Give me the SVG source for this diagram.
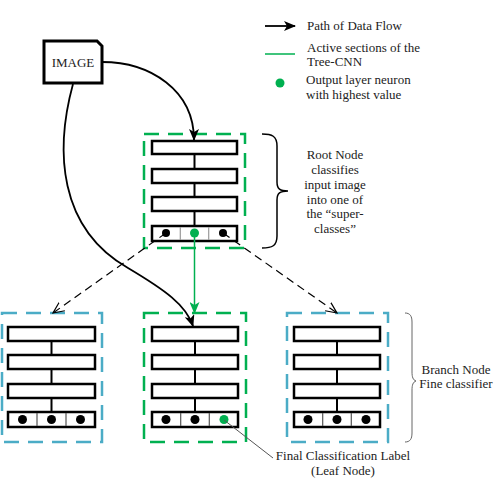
<svg xmlns="http://www.w3.org/2000/svg" width="498" height="498" viewBox="0 0 498 498">
<style>
text{font-family:"Liberation Serif","Times New Roman",serif;font-size:13px;fill:#222}
.box-g{fill:none;stroke:#00b050;stroke-width:2.5;stroke-dasharray:15 9}
.box-b{fill:none;stroke:#4bacc6;stroke-width:2.5;stroke-dasharray:15 9}
.layer{fill:#fff;stroke:#000;stroke-width:2.5}
.stem{stroke:#000;stroke-width:2}
.div{stroke:#555;stroke-width:1.2}
.divr{stroke:#999;stroke-width:1.2}
.dot{fill:#000}
.gdot{fill:#00b050}
.flow{fill:none;stroke:#000;stroke-width:1.8}
.dash{fill:none;stroke:#000;stroke-width:1.2;stroke-dasharray:8 5}
.gline{fill:none;stroke:#00b050;stroke-width:1.5}
.brace{fill:none;stroke:#000;stroke-width:1.5}
.brace2{fill:none;stroke:#666;stroke-width:1}
</style>
<defs>
<marker id="ah" markerWidth="12" markerHeight="10" refX="11" refY="5" orient="auto" markerUnits="userSpaceOnUse">
<path d="M0,0 L12,5 L0,10 L3,5 Z" fill="#000"/>
</marker>
<marker id="ahg" markerWidth="12" markerHeight="10" refX="11" refY="5" orient="auto" markerUnits="userSpaceOnUse">
<path d="M0,0 L12,5 L0,10 L3,5 Z" fill="#00b050"/>
</marker>
<marker id="ahv" markerWidth="12" markerHeight="12" refX="11" refY="6" orient="auto" markerUnits="userSpaceOnUse">
<path d="M0,1 L11,6 L0,11" fill="none" stroke="#000" stroke-width="1.2"/>
</marker>
</defs>

<g id="image">
<path d="M44,41 L97,41 L102,46 L102,83 L44,83 Z" fill="#fff" stroke="#000" stroke-width="3"/>
<text x="73" y="67" text-anchor="middle">IMAGE</text>
</g>

<g id="root">
<rect class="box-g" x="144" y="134" width="101" height="114"/>
<line class="stem" x1="194.5" y1="154" x2="194.5" y2="226"/>
<rect class="layer" x="152" y="141" width="85" height="13"/>
<rect class="layer" x="152" y="169" width="85" height="14"/>
<rect class="layer" x="152" y="197" width="85" height="14"/>
<rect class="layer" x="152" y="226" width="85" height="15"/>
<line class="divr" x1="180.3" y1="227" x2="180.3" y2="240"/>
<line class="divr" x1="208.7" y1="227" x2="208.7" y2="240"/>
<circle class="dot" cx="166" cy="233" r="4"/>
<circle class="gdot" cx="194.5" cy="233" r="4.5"/>
<circle class="dot" cx="223" cy="233" r="4"/>
</g>

<g id="branch-left">
<rect class="box-b" x="2" y="313" width="100" height="129"/>
<line class="stem" x1="51.5" y1="341" x2="51.5" y2="412"/>
<rect class="layer" x="8" y="327" width="87" height="14"/>
<rect class="layer" x="8" y="355" width="87" height="14"/>
<rect class="layer" x="8" y="384" width="87" height="14"/>
<rect class="layer" x="8" y="412" width="87" height="15"/>
<line class="div" x1="37" y1="413" x2="37" y2="426"/>
<line class="div" x1="66" y1="413" x2="66" y2="426"/>
<circle class="dot" cx="22.5" cy="419.5" r="4.5"/>
<circle class="dot" cx="51.5" cy="419.5" r="4.5"/>
<circle class="dot" cx="80.5" cy="419.5" r="4.5"/>
</g>

<g id="branch-mid">
<rect class="box-g" x="144" y="313" width="102" height="129"/>
<line class="stem" x1="195" y1="341" x2="195" y2="412"/>
<rect class="layer" x="152" y="327" width="86" height="14"/>
<rect class="layer" x="152" y="355" width="86" height="14"/>
<rect class="layer" x="152" y="384" width="86" height="14"/>
<rect class="layer" x="152" y="412" width="86" height="15"/>
<line class="div" x1="180.7" y1="413" x2="180.7" y2="426"/>
<line class="div" x1="209.3" y1="413" x2="209.3" y2="426"/>
<circle class="dot" cx="166" cy="419.5" r="4.5"/>
<circle class="dot" cx="195" cy="419.5" r="4.5"/>
<circle class="gdot" cx="224" cy="419.5" r="4.5"/>
</g>

<g id="branch-right">
<rect class="box-b" x="287" y="313" width="101" height="129"/>
<line class="stem" x1="337" y1="341" x2="337" y2="412"/>
<rect class="layer" x="294" y="327" width="86" height="14"/>
<rect class="layer" x="294" y="355" width="86" height="14"/>
<rect class="layer" x="294" y="384" width="86" height="14"/>
<rect class="layer" x="294" y="412" width="86" height="15"/>
<line class="div" x1="322.7" y1="413" x2="322.7" y2="426"/>
<line class="div" x1="351.3" y1="413" x2="351.3" y2="426"/>
<circle class="dot" cx="308" cy="419.5" r="4.5"/>
<circle class="dot" cx="337" cy="419.5" r="4.5"/>
<circle class="dot" cx="366" cy="419.5" r="4.5"/>
</g>

<g id="connectors">
<path class="flow" d="M102,62 C150,62 194,90 194,140" marker-end="url(#ah)"/>
<path class="flow" d="M73,84 C55,150 58,228 128,268 C165,290 186,305 193,326" marker-end="url(#ah)"/>
<path class="gline" d="M194.5,233 L194.5,313" marker-end="url(#ahg)"/>
<path class="dash" d="M166,233 L53,313" marker-end="url(#ahv)"/>
<path class="dash" d="M223,233 L337,313" marker-end="url(#ahv)"/>
<path d="M224,420 L273,458" fill="none" stroke="#555" stroke-width="1"/>
</g>

<g id="annotations">
<path class="brace" d="M262,134 C272,134 277,136 277,146 L277,182 C277,189 280,191 288,191 C280,191 277,193 277,200 L277,236 C277,246 272,248 262,248"/>
<text text-anchor="middle" x="335" y="159">Root Node</text>
<text text-anchor="middle" x="335" y="174">classifies</text>
<text text-anchor="middle" x="335" y="189">input image</text>
<text text-anchor="middle" x="335" y="204">into one of</text>
<text text-anchor="middle" x="335" y="218">the “super-</text>
<text text-anchor="middle" x="335" y="233">classes”</text>
<path class="brace2" d="M405,313 C410,313 412,316 412,322 L412,372 C412,377 413,380 416,381 C413,382 412,385 412,390 L412,433 C412,439 410,442 405,442"/>
<text text-anchor="middle" x="456" y="374">Branch Node</text>
<text text-anchor="middle" x="456" y="388">Fine classifier</text>
<text text-anchor="middle" x="343" y="460">Final Classification Label</text>
<text text-anchor="middle" x="343" y="475">(Leaf Node)</text>
</g>

<g id="legend">
<line x1="265" y1="26" x2="295" y2="26" stroke="#000" stroke-width="1.8" marker-end="url(#ah)"/>
<text x="307" y="30">Path of Data Flow</text>
<line x1="265" y1="54" x2="295" y2="54" stroke="#00b050" stroke-width="1.5"/>
<text x="307" y="52">Active sections of the</text>
<text x="307" y="66">Tree-CNN</text>
<circle class="gdot" cx="280" cy="83" r="4.5"/>
<text x="306" y="84">Output layer neuron</text>
<text x="306" y="99">with highest value</text>
</g>
</svg>
